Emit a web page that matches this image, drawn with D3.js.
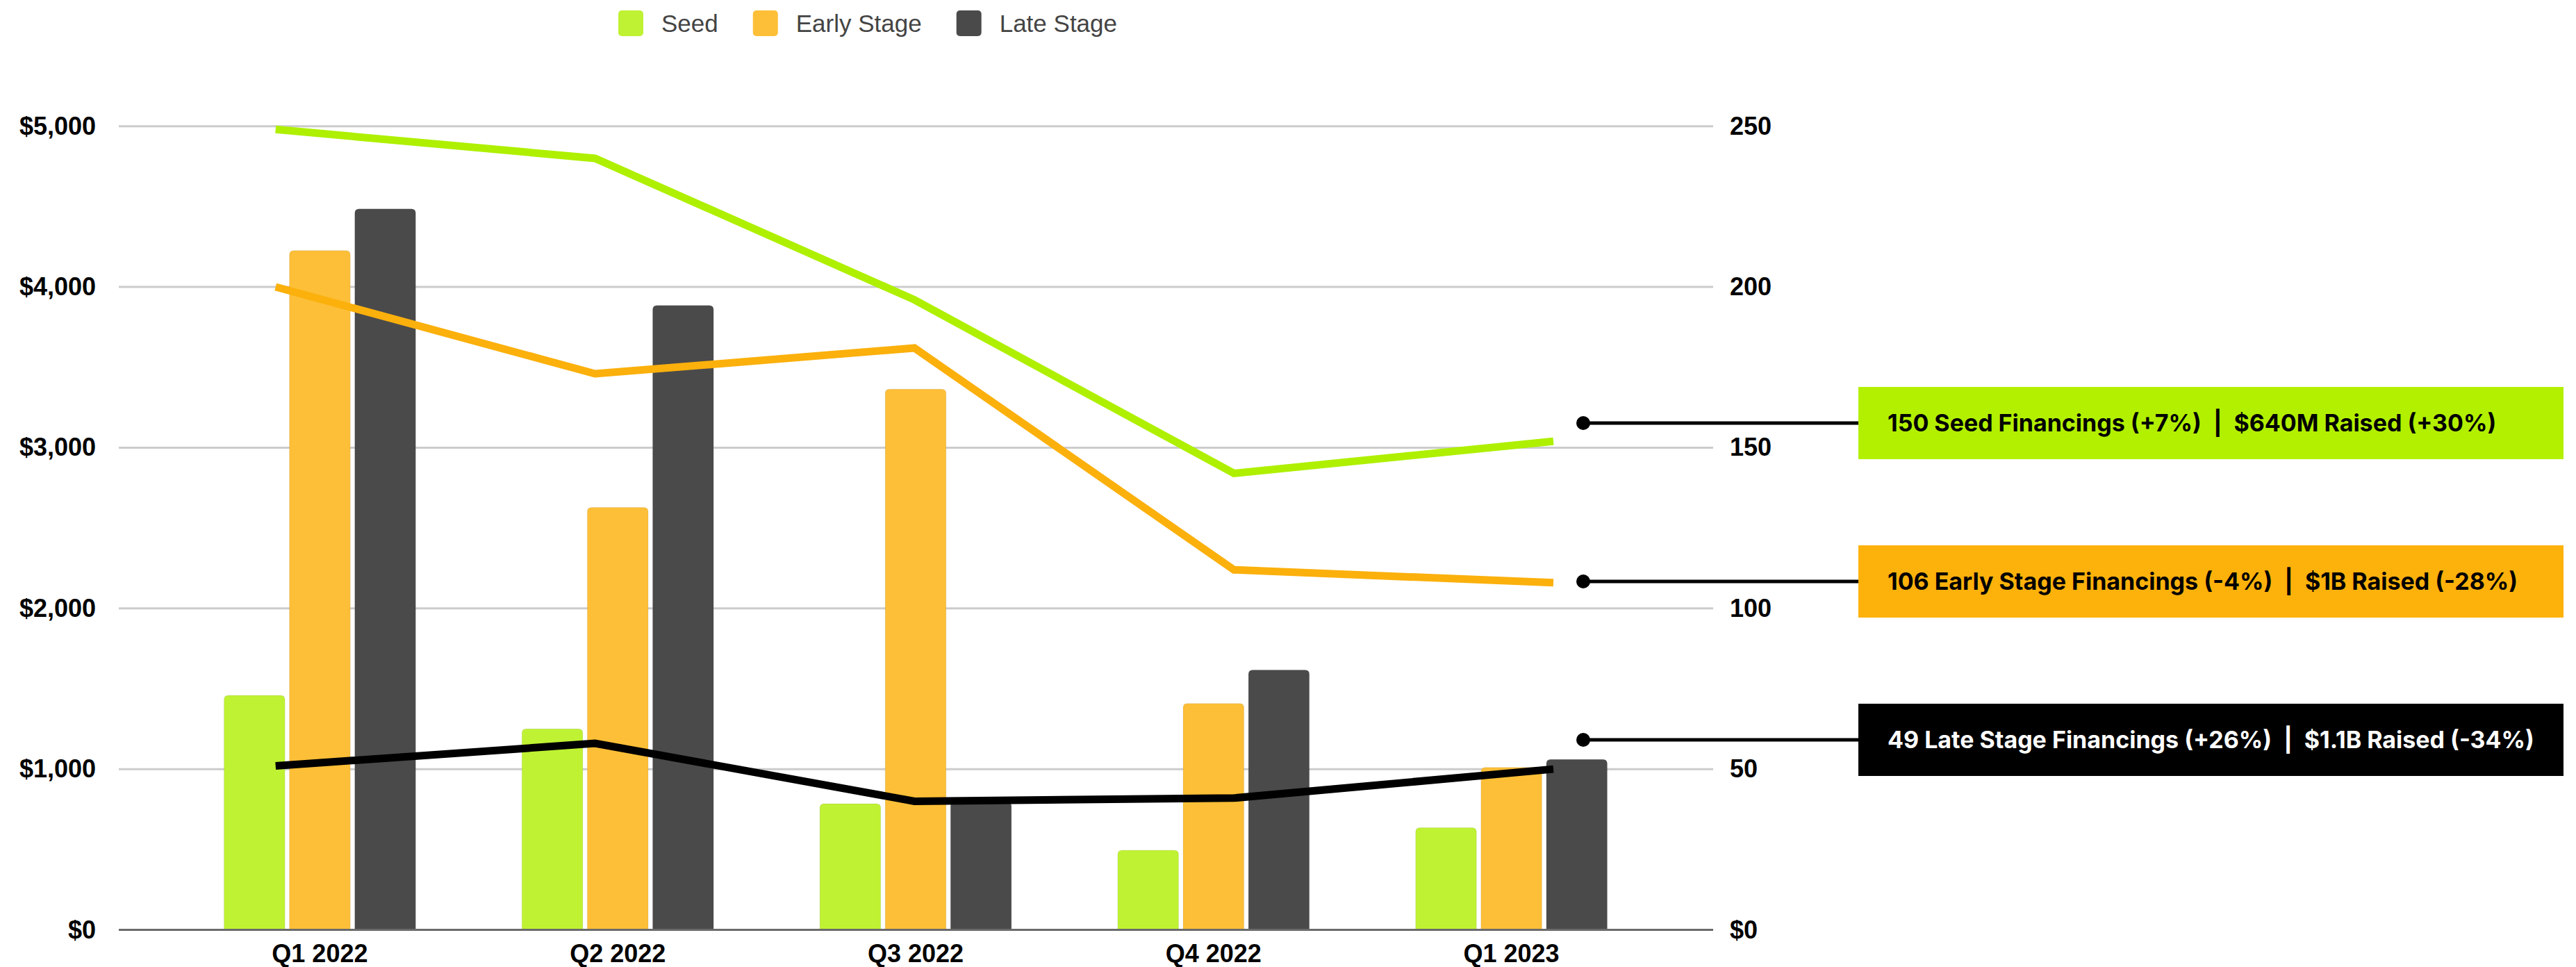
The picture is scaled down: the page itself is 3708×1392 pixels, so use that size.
<!DOCTYPE html>
<html>
<head>
<meta charset="utf-8">
<script src="https://cdn.jsdelivr.net/npm/d3@7"></script>
<style>
  html, body { margin: 0; padding: 0; background: #fff; }
  svg { display: block; }
</style>
</head>
<body>
<svg id="chart"></svg>
<script>
// Data
const quarters = ["Q1 2022", "Q2 2022", "Q3 2022", "Q4 2022", "Q1 2023"];
const stages = ["Seed", "Early Stage", "Late Stage"];

// capital raised ($M) -> bars, left axis
const seedRaised = [1459, 1250, 784, 495, 635];
const earlyRaised = [4226, 2628, 3364, 1408, 1010];
const lateRaised = [4485, 3885, 795, 1617, 1060];

// number of financings -> lines, right axis
const seedDeals = [249, 240, 196, 142, 152];
const earlyDeals = [200, 173, 181, 112, 108];
const lateDeals = [51, 58, 40, 41, 50];

const leftTicks = [0, 1000, 2000, 3000, 4000, 5000];
const leftTickLabels = ["$0", "$1,000", "$2,000", "$3,000", "$4,000", "$5,000"];
const rightTicks = [0, 50, 100, 150, 200, 250];
const rightTickLabels = ["$0", "50", "100", "150", "200", "250"];

const callouts = [
  "150 Seed Financings (+7%)\u2002|\u2002$640M Raised (+30%)",
  "106 Early Stage Financings (-4%)\u2002|\u2002$1B Raised (-28%)",
  "49 Late Stage Financings (+26%)\u2002|\u2002$1.1B Raised (-34%)"
];

const barColors = ["#bff233", "#fdbf37", "#4a4a4a"];
const lineColors = ["#aef000", "#fbb00c", "#000000"];
const boxColors = ["#b2f000", "#fdb10b", "#000000"];
const boxTextColors = ["#000", "#000", "#fff"];

const width = 3708, height = 1392;
const axisFont = "'Liberation Sans', Arial, sans-serif";

const svg = d3.select("#chart")
  .attr("width", width)
  .attr("height", height)
  .attr("viewBox", [0, 0, width, height]);

const yLeft = d3.scaleLinear().domain([0, 5000]).range([1338.5, 181.7]);
const yRight = d3.scaleLinear().domain([0, 250]).range([1338.5, 181.7]);

const x0 = d3.scaleBand()
  .domain(quarters)
  .range([246, 2390])
  .paddingInner(0.357)
  .paddingOuter(0.1785);

const x1 = d3.scaleBand()
  .domain(stages)
  .range([0, x0.bandwidth()])
  .paddingInner(0.07);

// the line series sit on a slightly wider spread than the bar groups
const xLine = d3.scalePoint()
  .domain(quarters)
  .range([396.7, 2236]);

const gridLeft = 171, gridRight = 2466;

// gridlines
svg.append("g")
  .selectAll("line")
  .data(leftTicks.filter(d => d > 0))
  .join("line")
    .attr("x1", gridLeft)
    .attr("x2", gridRight)
    .attr("y1", d => yLeft(d))
    .attr("y2", d => yLeft(d))
    .attr("stroke", "#cccccc")
    .attr("stroke-width", 3);

// left axis labels
const leftAxis = svg.append("g")
  .attr("transform", `translate(138,0)`)
  .call(d3.axisLeft(yLeft).tickValues(leftTicks).tickSize(0).tickPadding(0)
    .tickFormat((d, i) => leftTickLabels[i]));
leftAxis.select(".domain").remove();
leftAxis.selectAll("text")
  .attr("font-family", axisFont)
  .attr("font-weight", "bold")
  .attr("font-size", 36)
  .attr("fill", "#000");

// right axis labels
const rightAxis = svg.append("g")
  .attr("transform", `translate(2490,0)`)
  .call(d3.axisRight(yRight).tickValues(rightTicks).tickSize(0).tickPadding(0)
    .tickFormat((d, i) => rightTickLabels[i]));
rightAxis.select(".domain").remove();
rightAxis.selectAll("text")
  .attr("font-family", axisFont)
  .attr("font-weight", "bold")
  .attr("font-size", 36)
  .attr("fill", "#000");

// bars with rounded tops
const raised = [seedRaised, earlyRaised, lateRaised];
const barData = quarters.flatMap((q, i) => stages.map((s, k) => ({ q, s, k, v: raised[k][i] })));

function topRounded(x, y, w, h, r) {
  r = Math.min(r, h, w / 2);
  return `M${x},${y + h}V${y + r}Q${x},${y} ${x + r},${y}H${x + w - r}Q${x + w},${y} ${x + w},${y + r}V${y + h}Z`;
}

svg.append("g")
  .selectAll("path")
  .data(barData)
  .join("path")
    .attr("d", d => {
      const x = x0(d.q) + x1(d.s);
      const y = yLeft(d.v);
      return topRounded(x, y, x1.bandwidth(), yLeft(0) - y, 6);
    })
    .attr("fill", d => barColors[d.k])
    .attr("stroke", "rgba(0,0,0,0.08)")
    .attr("stroke-width", 1);

// baseline
svg.append("line")
  .attr("x1", gridLeft)
  .attr("x2", gridRight)
  .attr("y1", yLeft(0))
  .attr("y2", yLeft(0))
  .attr("stroke", "#6b6b6b")
  .attr("stroke-width", 3);

// x labels
svg.append("g")
  .selectAll("text")
  .data(quarters)
  .join("text")
    .attr("x", d => x0(d) + x0.bandwidth() / 2)
    .attr("y", 1385)
    .attr("text-anchor", "middle")
    .attr("font-family", axisFont)
    .attr("font-weight", "bold")
    .attr("font-size", 36)
    .attr("fill", "#000")
    .text(d => d);

// lines
const deals = [seedDeals, earlyDeals, lateDeals];
const line = d3.line()
  .x((d, i) => xLine(quarters[i]))
  .y(d => yRight(d));

svg.append("g")
  .selectAll("path")
  .data(deals)
  .join("path")
    .attr("d", d => line(d))
    .attr("fill", "none")
    .attr("stroke", (d, i) => lineColors[i])
    .attr("stroke-width", 11)
    .attr("stroke-linejoin", "miter");

// legend
const legend = svg.append("g");
let lx = 890;
stages.forEach((s, i) => {
  legend.append("rect")
    .attr("x", lx)
    .attr("y", 15)
    .attr("width", 36)
    .attr("height", 37)
    .attr("rx", 5)
    .attr("fill", barColors[i]);
  const t = legend.append("text")
    .attr("x", lx + 62)
    .attr("y", 46)
    .attr("font-family", axisFont)
    .attr("font-size", 35)
    .attr("fill", "#444")
    .text(s);
  lx += 62 + t.node().getComputedTextLength() + 50;
});

// callouts on the right
const boxX = 2675, boxW = 1015, boxH = 104;
const firstCentre = 609, centreStep = 228;
const dotX = 2279;

const callout = svg.append("g")
  .selectAll("g")
  .data(callouts)
  .join("g")
    .attr("transform", (d, i) => `translate(0,${firstCentre + i * centreStep})`);

callout.append("line")
  .attr("x1", dotX)
  .attr("x2", boxX)
  .attr("stroke", "#000")
  .attr("stroke-width", 5);

callout.append("circle")
  .attr("cx", dotX)
  .attr("r", 10)
  .attr("fill", "#000");

callout.append("rect")
  .attr("x", boxX)
  .attr("y", -boxH / 2)
  .attr("width", boxW)
  .attr("height", boxH)
  .attr("fill", (d, i) => boxColors[i]);

callout.append("text")
  .attr("x", boxX + 42)
  .attr("y", 0)
  .attr("dy", "0.36em")
  .attr("font-family", "Inter, 'Noto Sans', sans-serif")
  .attr("font-weight", 700)
  .attr("font-size", 34)
  .attr("fill", (d, i) => boxTextColors[i])
  .text(d => d);
</script>
</body>
</html>
